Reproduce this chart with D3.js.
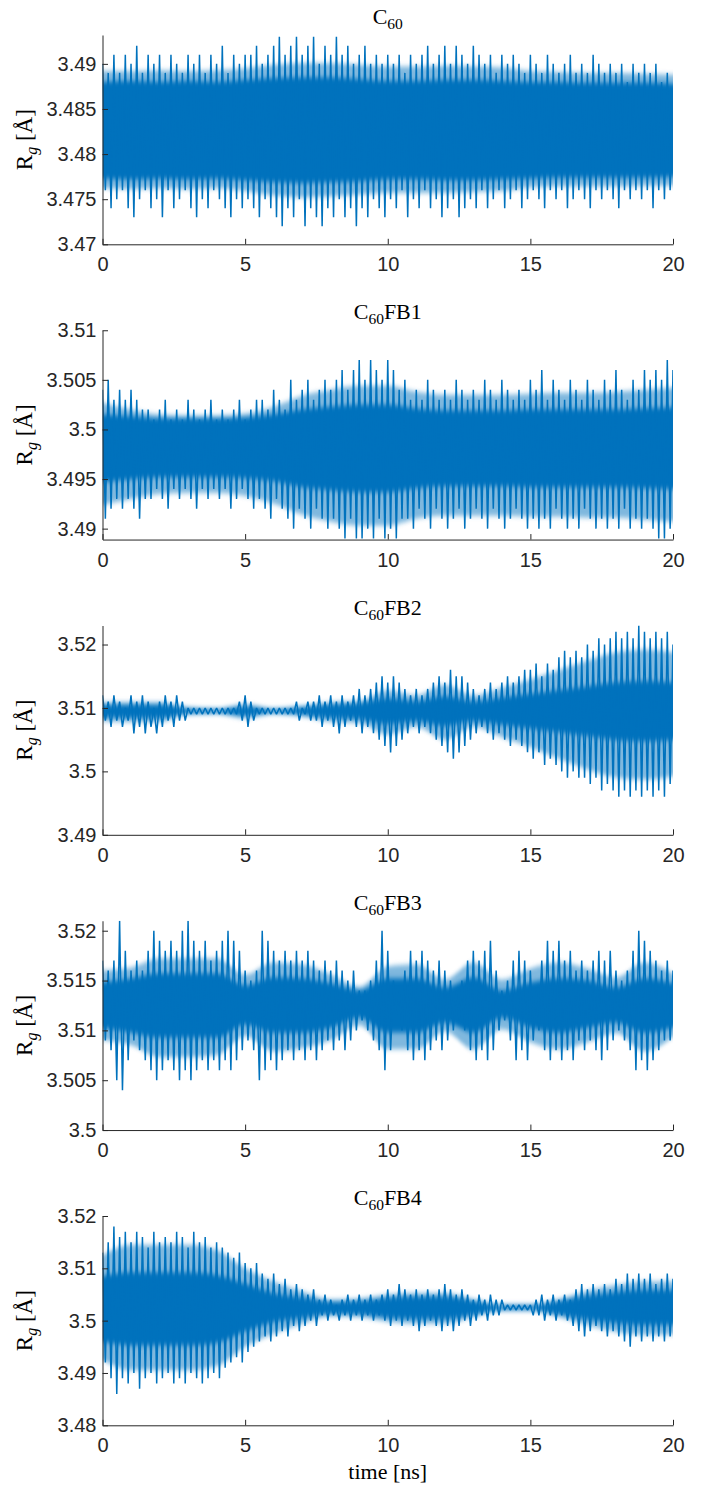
<!DOCTYPE html>
<html>
<head>
<meta charset="utf-8">
<script src="https://cdn.jsdelivr.net/npm/d3@7"></script>
<style>
  html, body { margin: 0; padding: 0; background: #ffffff; }
  svg { display: block; }
</style>
</head>
<body>
<svg id="chart" width="707" height="1497"></svg>
<script>
// ---------------- data ----------------
const timeTicks = [0, 5, 10, 15, 20];
const timeLabel = "time [ns]";
const peakStep = 0.2;          // ns between successive peaks (troughs sit halfway)
const bandTimes = [0,1,2,3,4,5,6,7,8,9,10,11,12,13,14,15,16,17,18,19,20];

const panelNames = ["", "FB1", "FB2", "FB3", "FB4"];

// ---- C60 ----
const c60Range = [3.47, 3.4932];
const c60Ticks = [3.47, 3.475, 3.48, 3.485, 3.49];
const c60Peaks = [
 3.490,3.489,3.491,3.489,3.491,3.490,3.492,3.489,3.491,3.490,3.491,3.489,3.491,3.490,3.489,3.491,3.490,3.491,3.489,3.491,3.490,3.492,3.489,3.491,3.490,3.491,
 3.491,3.492,3.490,3.491,3.492,3.493,3.491,3.492,3.493,3.491,3.492,3.493,3.490,3.492,3.491,3.493,3.491,3.492,3.490,3.491,3.492,3.490,3.491,3.490,3.491,
 3.490,3.491,3.489,3.491,3.490,3.491,3.492,3.490,3.491,3.492,3.490,3.492,3.491,3.490,3.492,3.491,3.490,3.491,3.489,3.491,3.490,3.491,3.490,3.489,3.491,
 3.490,3.489,3.491,3.490,3.489,3.490,3.491,3.489,3.490,3.489,3.491,3.490,3.489,3.490,3.489,3.490,3.488,3.490,3.489,3.490,3.489,3.490,3.488,3.489,3.487];
const c60Troughs = [
 3.476,3.474,3.475,3.476,3.474,3.473,3.475,3.476,3.474,3.475,3.473,3.476,3.474,3.475,3.476,3.474,3.473,3.475,3.474,3.476,3.475,3.474,3.473,3.475,3.474,
 3.475,3.474,3.473,3.475,3.474,3.473,3.472,3.474,3.473,3.475,3.472,3.474,3.473,3.472,3.474,3.473,3.475,3.473,3.474,3.472,3.474,3.473,3.475,3.474,3.473,
 3.475,3.474,3.476,3.473,3.475,3.474,3.476,3.474,3.475,3.473,3.474,3.475,3.473,3.474,3.475,3.474,3.476,3.474,3.475,3.476,3.474,3.475,3.476,3.474,3.475,
 3.476,3.475,3.474,3.476,3.475,3.476,3.474,3.475,3.476,3.475,3.474,3.476,3.475,3.476,3.475,3.474,3.476,3.475,3.476,3.475,3.476,3.474,3.476,3.475,3.476];
const c60BandHi = [3.4892,3.4892,3.4893,3.4892,3.4893,3.4895,3.4899,3.4901,3.4901,3.4899,3.4897,3.4897,3.4898,3.4897,3.4896,3.4892,3.4891,3.4890,3.4890,3.4889,3.4888];
const c60BandLo = [3.4762,3.4761,3.4762,3.4761,3.4762,3.4759,3.4754,3.4752,3.4753,3.4755,3.4757,3.4757,3.4757,3.4758,3.4759,3.4763,3.4764,3.4764,3.4764,3.4765,3.4765];
const c60CoreHi = [3.4880,3.4881,3.4880,3.4881,3.4880,3.4882,3.4884,3.4885,3.4885,3.4883,3.4881,3.4881,3.4882,3.4882,3.4881,3.4880,3.4880,3.4879,3.4879,3.4879,3.4878];
const c60CoreLo = [3.4773,3.4772,3.4773,3.4772,3.4773,3.4771,3.4769,3.4768,3.4769,3.4770,3.4772,3.4772,3.4771,3.4771,3.4772,3.4773,3.4774,3.4774,3.4774,3.4774,3.4775];

// ---- C60FB1 ----
const fb1Range = [3.4889, 3.51];
const fb1Ticks = [3.49, 3.495, 3.5, 3.505, 3.51];
const fb1Peaks = [
 3.504,3.505,3.503,3.504,3.503,3.504,3.503,3.502,
 3.502,3.501,3.502,3.503,3.501,3.502,3.501,3.503,3.502,3.501,3.502,3.503,3.501,3.502,3.501,3.502,3.503,3.501,3.502,3.503,
 3.503,3.502,3.504,3.503,3.502,
 3.505,3.503,3.504,3.505,3.503,3.504,3.505,3.504,
 3.505,3.506,3.504,3.506,3.507,3.505,3.507,3.506,3.505,3.507,3.506,3.504,
 3.505,3.503,3.504,3.503,3.505,3.504,3.503,3.504,3.503,3.505,3.504,3.503,3.504,3.503,3.505,3.504,3.503,3.505,3.504,3.503,3.504,3.503,3.505,
 3.504,3.506,3.503,3.505,3.504,3.503,3.505,3.504,3.503,3.505,3.504,3.503,3.505,3.504,3.506,3.504,3.503,3.505,3.504,3.506,3.505,3.506,3.505,3.507,3.506];
const fb1Troughs = [
 3.491,3.492,3.493,3.492,3.493,3.492,3.491,3.493,
 3.493,3.494,3.493,3.492,3.494,3.493,3.494,3.493,3.492,3.494,3.493,3.494,3.493,3.494,3.492,3.493,3.494,3.493,3.492,3.493,
 3.492,3.491,3.493,3.492,3.491,
 3.490,3.492,3.491,3.490,3.492,3.491,3.490,3.491,
 3.490,3.489,3.491,3.489,3.489,3.490,3.489,3.491,3.489,3.490,3.489,3.491,
 3.491,3.490,3.492,3.491,3.490,3.492,3.491,3.490,3.491,3.492,3.490,3.491,3.492,3.491,3.490,3.492,3.491,3.490,3.491,3.492,3.491,3.490,3.491,
 3.490,3.491,3.490,3.492,3.491,3.490,3.491,3.490,3.492,3.491,3.490,3.491,3.490,3.491,3.490,3.492,3.490,3.491,3.490,3.491,3.490,3.489,3.489,3.490];
const fb1BandHi = [3.5027,3.5020,3.5015,3.5014,3.5014,3.5016,3.5023,3.5034,3.5040,3.5044,3.5044,3.5038,3.5035,3.5035,3.5035,3.5036,3.5037,3.5037,3.5038,3.5040,3.5042];
const fb1BandLo = [3.4924,3.4930,3.4935,3.4936,3.4936,3.4933,3.4925,3.4914,3.4907,3.4903,3.4903,3.4910,3.4913,3.4913,3.4913,3.4912,3.4912,3.4911,3.4911,3.4909,3.4907];
const fb1CoreHi = [3.5015,3.5013,3.5011,3.5011,3.5011,3.5012,3.5015,3.5020,3.5023,3.5025,3.5025,3.5021,3.5019,3.5019,3.5019,3.5020,3.5020,3.5020,3.5020,3.5021,3.5022];
const fb1CoreLo = [3.4947,3.4950,3.4952,3.4952,3.4952,3.4951,3.4948,3.4942,3.4939,3.4937,3.4937,3.4941,3.4943,3.4943,3.4943,3.4942,3.4942,3.4942,3.4942,3.4941,3.4940];

// ---- C60FB2 ----
const fb2Range = [3.49, 3.523];
const fb2Ticks = [3.49, 3.5, 3.51, 3.52];
const fb2Peaks = [
 3.512,3.511,3.512,3.511,3.510,3.512,3.511,3.512,3.511,3.510,3.511,3.512,3.511,3.512,3.511,
 3.510,3.510,3.510,3.510,3.510,3.510,3.510,3.510,3.510,
 3.511,3.512,3.511,3.510,
 3.510,3.510,3.510,3.510,3.510,3.510,
 3.511,3.510,3.511,3.511,
 3.512,3.511,3.512,3.511,3.512,3.511,3.512,3.513,3.512,3.513,
 3.514,3.515,3.514,3.515,3.514,
 3.513,3.512,3.513,3.512,3.513,
 3.514,3.515,3.514,3.516,3.515,3.515,3.514,
 3.513,3.512,3.513,3.514,3.513,
 3.514,3.515,3.514,3.515,3.516,
 3.516,3.517,3.515,3.517,3.516,
 3.518,3.519,3.518,3.519,3.518,
 3.520,3.519,3.521,3.520,3.521,
 3.522,3.521,3.522,3.521,3.523,
 3.522,3.521,3.522,3.521,3.522,3.520];
const fb2Troughs = [
 3.508,3.507,3.508,3.507,3.508,3.506,3.507,3.506,3.507,3.506,3.507,3.508,3.507,3.508,3.508,
 3.509,3.509,3.509,3.509,3.509,3.509,3.509,3.509,3.509,
 3.508,3.507,3.508,3.509,
 3.509,3.509,3.509,3.509,3.509,3.509,
 3.508,3.509,3.508,3.508,
 3.507,3.508,3.507,3.506,3.507,3.508,3.507,3.506,3.507,3.506,
 3.505,3.504,3.503,3.504,3.505,
 3.506,3.507,3.506,3.507,3.506,
 3.505,3.504,3.503,3.502,3.503,3.504,3.505,
 3.506,3.507,3.506,3.505,3.506,
 3.505,3.504,3.505,3.504,3.503,
 3.502,3.503,3.501,3.502,3.501,
 3.500,3.499,3.500,3.499,3.499,
 3.498,3.499,3.497,3.498,3.497,
 3.496,3.497,3.496,3.497,3.496,
 3.497,3.496,3.497,3.496,3.498];
const fb2BandHi = [3.5109,3.5109,3.5109,3.5101,3.5099,3.5106,3.5099,3.5103,3.5109,3.5111,3.5128,3.5120,3.5136,3.5120,3.5132,3.5145,3.5160,3.5175,3.5188,3.5192,3.5188];
const fb2BandLo = [3.5079,3.5078,3.5078,3.5090,3.5091,3.5084,3.5091,3.5087,3.5078,3.5076,3.5058,3.5070,3.5050,3.5070,3.5054,3.5038,3.5020,3.5003,3.4990,3.4987,3.4992];
const fb2CoreHi = [3.5104,3.5105,3.5105,3.5099,3.5098,3.5102,3.5098,3.5101,3.5105,3.5107,3.5115,3.5110,3.5118,3.5110,3.5116,3.5122,3.5128,3.5134,3.5140,3.5142,3.5140];
const fb2CoreLo = [3.5086,3.5085,3.5085,3.5091,3.5092,3.5088,3.5092,3.5089,3.5085,3.5083,3.5075,3.5080,3.5072,3.5080,3.5074,3.5068,3.5062,3.5056,3.5050,3.5048,3.5050];

// ---- C60FB3 ----
const fb3Range = [3.5, 3.521];
const fb3Ticks = [3.5, 3.505, 3.51, 3.515, 3.52];
const fb3Peaks = [
 3.517,3.516,3.517,3.521,3.518,3.516,3.517,3.516,3.518,3.520,
 3.519,3.518,3.519,3.518,3.520,3.521,3.519,3.518,3.519,3.517,
 3.518,3.519,3.520,3.519,3.518,3.516,3.515,3.516,3.520,3.519,
 3.518,3.517,3.518,3.517,3.518,3.517,3.518,3.517,3.516,3.517,
 3.516,3.517,3.516,3.515,3.516,3.514,3.514,3.515,3.517,3.520,
 3.518,3.515,3.514,3.516,3.518,3.517,3.518,3.517,3.516,3.517,
 3.516,3.515,3.514,3.515,3.517,3.518,3.517,3.518,3.519,3.516,
 3.514,3.515,3.517,3.518,3.517,3.516,3.514,3.517,3.519,3.518,
 3.519,3.517,3.518,3.516,3.517,3.516,3.517,3.518,3.517,3.518,
 3.516,3.515,3.516,3.518,3.520,3.519,3.518,3.517,3.516,3.517,
 3.516];
const fb3Troughs = [
 3.509,3.508,3.505,3.504,3.507,3.509,3.508,3.507,3.506,3.505,
 3.506,3.507,3.506,3.505,3.506,3.505,3.506,3.507,3.506,3.507,
 3.506,3.507,3.506,3.507,3.508,3.509,3.508,3.505,3.506,3.507,
 3.506,3.507,3.508,3.507,3.508,3.507,3.508,3.507,3.508,3.509,
 3.508,3.509,3.508,3.509,3.510,3.511,3.510,3.509,3.508,3.506,
 3.508,3.511,3.510,3.508,3.507,3.508,3.507,3.508,3.509,3.508,
 3.509,3.510,3.511,3.510,3.508,3.507,3.508,3.507,3.508,3.510,
 3.511,3.509,3.507,3.508,3.507,3.509,3.510,3.508,3.507,3.508,
 3.507,3.508,3.507,3.509,3.508,3.509,3.508,3.507,3.508,3.509,
 3.510,3.509,3.508,3.506,3.507,3.506,3.507,3.508,3.509,3.509];
const fb3BandHi = [3.5160,3.5163,3.5172,3.5172,3.5172,3.5156,3.5168,3.5166,3.5156,3.5144,3.5164,3.5166,3.5151,3.5168,3.5151,3.5162,3.5168,3.5162,3.5153,3.5168,3.5157];
const fb3BandLo = [3.5090,3.5085,3.5073,3.5073,3.5075,3.5094,3.5079,3.5082,3.5090,3.5105,3.5081,3.5081,3.5099,3.5081,3.5101,3.5088,3.5081,3.5088,3.5097,3.5079,3.5093];
const fb3CoreHi = [3.5148,3.5152,3.5157,3.5157,3.5157,3.5145,3.5153,3.5152,3.5147,3.5140,3.5152,3.5152,3.5143,3.5153,3.5140,3.5148,3.5152,3.5150,3.5143,3.5152,3.5147];
const fb3CoreLo = [3.5103,3.5098,3.5093,3.5093,3.5093,3.5106,3.5098,3.5098,3.5103,3.5113,3.5098,3.5098,3.5108,3.5098,3.5113,3.5103,3.5098,3.5103,3.5108,3.5098,3.5103];

// ---- C60FB4 ----
const fb4Range = [3.48, 3.52];
const fb4Ticks = [3.48, 3.49, 3.5, 3.51, 3.52];
const fb4Peaks = [
 3.513,3.515,3.518,3.516,3.517,3.515,3.517,3.516,3.514,3.517,
 3.515,3.516,3.515,3.517,3.516,3.514,3.517,3.515,3.516,3.514,
 3.515,3.514,3.513,3.512,3.513,3.511,3.510,3.511,3.509,3.508,
 3.509,3.507,3.508,3.506,3.507,3.506,3.505,3.506,3.504,3.505,
 3.504,3.503,3.504,3.505,3.504,3.505,3.504,3.505,3.504,3.505,
 3.506,3.505,3.507,3.506,3.505,3.506,3.505,3.506,3.505,3.506,
 3.507,3.506,3.505,3.506,3.505,3.504,3.505,3.504,3.505,3.504,
 3.504,3.503,3.503,3.503,3.503,3.503,3.504,3.505,3.504,3.505,
 3.504,3.505,3.504,3.506,3.507,3.506,3.507,3.506,3.507,3.506,
 3.508,3.507,3.509,3.508,3.509,3.508,3.509,3.507,3.508,3.509,
 3.508];
const fb4Troughs = [
 3.492,3.489,3.486,3.489,3.488,3.490,3.487,3.489,3.490,3.488,
 3.489,3.490,3.488,3.489,3.488,3.490,3.489,3.488,3.489,3.490,
 3.489,3.491,3.492,3.493,3.492,3.494,3.495,3.496,3.497,3.496,
 3.497,3.498,3.497,3.499,3.498,3.499,3.500,3.499,3.501,3.500,
 3.501,3.500,3.501,3.500,3.501,3.500,3.501,3.500,3.501,3.500,
 3.499,3.500,3.499,3.500,3.499,3.498,3.499,3.500,3.499,3.498,
 3.499,3.498,3.499,3.500,3.499,3.500,3.501,3.500,3.501,3.501,
 3.502,3.502,3.502,3.502,3.502,3.501,3.501,3.500,3.501,3.500,
 3.501,3.500,3.499,3.498,3.497,3.498,3.499,3.498,3.497,3.498,
 3.497,3.496,3.495,3.497,3.496,3.497,3.496,3.497,3.496,3.497];
const fb4BandHi = [3.5125,3.5145,3.5145,3.5145,3.5135,3.5100,3.5075,3.5056,3.5040,3.5042,3.5050,3.5053,3.5053,3.5041,3.5031,3.5031,3.5041,3.5057,3.5068,3.5075,3.5075];
const fb4BandLo = [3.4925,3.4905,3.4905,3.4905,3.4913,3.4950,3.4975,3.4994,3.5009,3.5007,3.4998,3.4994,3.4994,3.5007,3.5019,3.5019,3.5007,3.4991,3.4979,3.4973,3.4973];
const fb4CoreHi = [3.5085,3.5092,3.5092,3.5092,3.5087,3.5070,3.5052,3.5044,3.5036,3.5037,3.5043,3.5045,3.5045,3.5037,3.5029,3.5029,3.5037,3.5047,3.5054,3.5058,3.5058];
const fb4CoreLo = [3.4960,3.4953,3.4953,3.4953,3.4958,3.4980,3.4998,3.5006,3.5013,3.5012,3.5006,3.5004,3.5004,3.5012,3.5021,3.5021,3.5012,3.5003,3.4996,3.4992,3.4992];

// ---------------- table for drawing ----------------
const panels = [
  { name: panelNames[0], range: c60Range, ticks: c60Ticks, peaks: c60Peaks, troughs: c60Troughs, bandHi: c60BandHi, bandLo: c60BandLo, coreHi: c60CoreHi, coreLo: c60CoreLo },
  { name: panelNames[1], range: fb1Range, ticks: fb1Ticks, peaks: fb1Peaks, troughs: fb1Troughs, bandHi: fb1BandHi, bandLo: fb1BandLo, coreHi: fb1CoreHi, coreLo: fb1CoreLo },
  { name: panelNames[2], range: fb2Range, ticks: fb2Ticks, peaks: fb2Peaks, troughs: fb2Troughs, bandHi: fb2BandHi, bandLo: fb2BandLo, coreHi: fb2CoreHi, coreLo: fb2CoreLo },
  { name: panelNames[3], range: fb3Range, ticks: fb3Ticks, peaks: fb3Peaks, troughs: fb3Troughs, bandHi: fb3BandHi, bandLo: fb3BandLo, coreHi: fb3CoreHi, coreLo: fb3CoreLo },
  { name: panelNames[4], range: fb4Range, ticks: fb4Ticks, peaks: fb4Peaks, troughs: fb4Troughs, bandHi: fb4BandHi, bandLo: fb4BandLo, coreHi: fb4CoreHi, coreLo: fb4CoreLo }
];

// ---------------- layout ----------------
const LINE = "#0072BD";
const AXIS = "#262626";
const left = 102.5, right = 673;
const firstTop = 35, panelH = 209.3, panelGap = 295.25;
const sansFont = "'Liberation Sans', Arial, Helvetica, sans-serif";
const serifFont = "'Liberation Serif', 'Times New Roman', serif";

const svg = d3.select("#chart");
const defs = svg.append("defs");
// soften the edges of the over-drawn region vertically only
defs.append("filter").attr("id", "soft").attr("x", "-0%").attr("y", "-20%").attr("width", "100%").attr("height", "140%")
  .append("feGaussianBlur").attr("stdDeviation", "0 2.5");

const x = d3.scaleLinear().domain([0, 20]).range([left, right]);
const fmt = d => String(+d.toFixed(4));

panels.forEach((p, i) => {
  const top = firstTop + i * panelGap;
  const bottom = top + panelH;
  const y = d3.scaleLinear().domain(p.range).range([bottom, top]);
  const g = svg.append("g");

  const clipId = "clip" + i;
  defs.append("clipPath").attr("id", clipId)
    .append("rect").attr("x", left).attr("y", top).attr("width", right - left).attr("height", panelH);

  // signal: alternating peaks and troughs
  const pts = [];
  p.peaks.forEach((v, k) => {
    pts.push({ t: k * peakStep, v: v });
    if (k < p.troughs.length) pts.push({ t: k * peakStep + peakStep / 2, v: p.troughs[k] });
  });
  const band = bandTimes.map((t, k) => ({ t: t, hi: p.bandHi[k], lo: p.bandLo[k], chi: p.coreHi[k], clo: p.coreLo[k] }));

  const plot = g.append("g").attr("clip-path", `url(#${clipId})`);
  const soft = plot.append("g").attr("filter", "url(#soft)");
  // region the trace sweeps through often (pale) and constantly (solid)
  soft.append("path")
    .datum(band)
    .attr("fill", LINE).attr("fill-opacity", 0.5)
    .attr("d", d3.area().curve(d3.curveMonotoneX).x(d => x(d.t)).y0(d => y(d.lo)).y1(d => y(d.hi)));
  soft.append("path")
    .datum(band)
    .attr("fill", LINE)
    .attr("d", d3.area().curve(d3.curveMonotoneX).x(d => x(d.t)).y0(d => y(d.clo)).y1(d => y(d.chi)));
  // the oscillating trace
  plot.append("path")
    .datum(pts)
    .attr("fill", "none")
    .attr("stroke", LINE)
    .attr("stroke-width", 1.5)
    .attr("stroke-linejoin", "miter")
    .attr("stroke-miterlimit", 1.5)
    .attr("d", d3.line().x(d => x(d.t)).y(d => y(d.v)));

  // axes
  const ax = g.append("g").attr("transform", `translate(0,${bottom})`)
    .call(d3.axisBottom(x).tickValues(timeTicks).tickSizeInner(-5.5).tickSizeOuter(0).tickPadding(13).tickFormat(fmt));
  const ay = g.append("g").attr("transform", `translate(${left},0)`)
    .call(d3.axisLeft(y).tickValues(p.ticks).tickSizeInner(-5.5).tickSizeOuter(0).tickPadding(6).tickFormat(fmt));
  [ax, ay].forEach(a => {
    a.select(".domain").attr("stroke", AXIS).attr("stroke-width", 1);
    a.selectAll(".tick line").attr("stroke", AXIS).attr("stroke-width", 1);
    a.selectAll(".tick text").attr("fill", AXIS).attr("font-family", sansFont).attr("font-size", 20);
  });

  // title
  const title = g.append("text")
    .attr("x", (left + right) / 2).attr("y", top - 11)
    .attr("text-anchor", "middle")
    .attr("font-family", serifFont).attr("font-size", 22).attr("fill", "#000");
  title.append("tspan").text("C");
  title.append("tspan").attr("dy", 5).attr("font-size", 15.5).text("60");
  title.append("tspan").attr("dy", -5).text(p.name);

  // y label
  const yl = g.append("text")
    .attr("transform", `translate(32,${(top + bottom) / 2}) rotate(-90)`)
    .attr("text-anchor", "middle")
    .attr("font-family", serifFont).attr("font-size", 23).attr("fill", "#000");
  yl.append("tspan").text("R");
  yl.append("tspan").attr("dy", 5).attr("font-size", 16).attr("font-style", "italic").text("g");
  yl.append("tspan").attr("dy", -5).text(" [Å]");
});

// x label at the bottom
const lastBottom = firstTop + 4 * panelGap + panelH;
svg.append("text")
  .attr("x", (left + right) / 2).attr("y", lastBottom + 54)
  .attr("text-anchor", "middle")
  .attr("font-family", serifFont).attr("font-size", 22).attr("fill", "#000")
  .text(timeLabel);
</script>
</body>
</html>
